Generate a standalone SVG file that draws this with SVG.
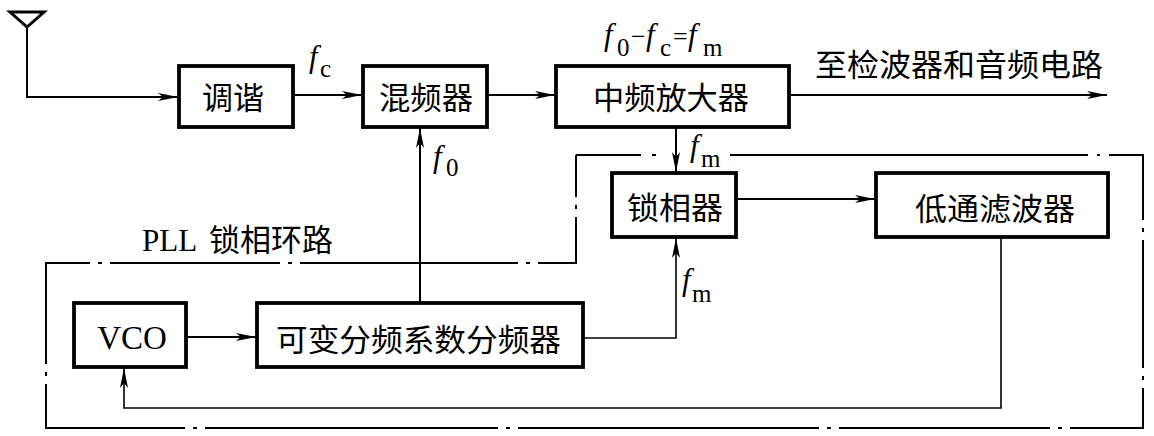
<svg xmlns="http://www.w3.org/2000/svg" width="1154" height="436" viewBox="0 0 1154 436">
<defs>
<marker id="arr" markerUnits="userSpaceOnUse" markerWidth="22" markerHeight="10" refX="20" refY="4" orient="auto">
<path d="M0,0 L20,4 L0,8 L5,4 z" fill="#000"/>
</marker>
</defs>
<style>
.box{fill:#fff;stroke:#000;stroke-width:3.8}
.cn{font-family:"Noto Sans CJK SC","Noto Sans",sans-serif;font-size:31px;fill:#000}
.lat{font-family:"Liberation Serif","Times New Roman",serif;fill:#000}
.f{font-family:"Liberation Serif","Times New Roman",serif;font-style:italic;font-size:31px;fill:#000}
.sub{font-family:"Liberation Serif","Times New Roman",serif;font-style:normal;font-size:25px;fill:#000}
.op{font-family:"Liberation Serif","Times New Roman",serif;font-style:normal;font-size:26px;fill:#000}
.ln{fill:none;stroke:#000;stroke-width:2}
.thin{fill:none;stroke:#000;stroke-width:1.6}
.bnd{fill:none;stroke:#000;stroke-width:2}
</style>
<rect width="1154" height="436" fill="#fff"/>

<g id="boundary">
<path class="bnd" d="M576,155 H641 M652,155 H656 M730,155 H1088 M1097,155 H1100 M1109,155 H1143 V220 M1143,228 V232 M1143,240 V368 M1143,376 V380 M1143,388 V428 H1070 M1062,428 H1058 M1050,428 H839 M831,428 H827 M819,428 H518 M510,428 H506 M498,428 H205 M197,428 H193 M185,428 H46 V384 M46,376 V372 M46,364 V263 H90 M98,263 H102 M110,263 H280 M288,263 H292 M300,263 H518 M526,263 H530 M538,263 H576 V217 M576,209 V205 M576,197 V155"/>
</g>

<g id="connectors">
<polyline class="ln" points="27,27 27,97 178,97" marker-end="url(#arr)"/>
<line class="ln" x1="293" y1="95" x2="362" y2="95" marker-end="url(#arr)"/>
<line class="ln" x1="487" y1="95" x2="555" y2="95" marker-end="url(#arr)"/>
<line class="ln" x1="789" y1="95" x2="1107" y2="95" marker-end="url(#arr)"/>
<line class="ln" x1="676" y1="127" x2="676" y2="172" marker-end="url(#arr)"/>
<line class="ln" x1="736" y1="199" x2="875" y2="199" marker-end="url(#arr)"/>
<line class="ln" x1="420" y1="303" x2="420" y2="128" marker-end="url(#arr)"/>
<line class="ln" x1="186" y1="337" x2="256" y2="337" marker-end="url(#arr)"/>
<polyline class="thin" points="583,338 676,338 676,238" marker-end="url(#arr)"/>
<polyline class="thin" points="1001,237 1001,408 124,408 124,368" marker-end="url(#arr)"/>
</g>

<g id="antenna">
<polygon points="10,12 44,12 27,27" fill="none" stroke="#000" stroke-width="3"/>
</g>

<g id="tune">
<rect class="box" x="179" y="66" width="114" height="61"/>
<text class="cn" x="202" y="109" textLength="62" lengthAdjust="spacingAndGlyphs">调谐</text>
</g>

<g id="mixer">
<rect class="box" x="363" y="66" width="124" height="61"/>
<text class="cn" x="379" y="109" textLength="94" lengthAdjust="spacingAndGlyphs">混频器</text>
</g>

<g id="if-amp">
<rect class="box" x="556" y="66" width="233" height="61"/>
<text class="cn" x="593" y="109" textLength="156" lengthAdjust="spacingAndGlyphs">中频放大器</text>
</g>

<g id="pd">
<rect class="box" x="612" y="173" width="124" height="64"/>
<text class="cn" x="627" y="219" textLength="96" lengthAdjust="spacingAndGlyphs">锁相器</text>
</g>

<g id="lpf">
<rect class="box" x="876" y="173" width="232" height="64"/>
<text class="cn" x="915" y="220" textLength="160" lengthAdjust="spacingAndGlyphs">低通滤波器</text>
</g>

<g id="vco">
<rect class="box" x="74" y="303" width="112" height="64"/>
<text class="lat" x="132" y="349" font-size="33" text-anchor="middle">VCO</text>
</g>

<g id="divider">
<rect class="box" x="257" y="303" width="326" height="64"/>
<text class="cn" x="276" y="351" textLength="285" lengthAdjust="spacingAndGlyphs">可变分频系数分频器</text>
</g>

<g id="labels">
<text class="cn" x="815" y="76" textLength="288" lengthAdjust="spacingAndGlyphs">至检波器和音频电路</text>
<text class="lat" x="142" y="251" font-size="31">PLL</text>
<text class="cn" x="209" y="251" textLength="124" lengthAdjust="spacingAndGlyphs">锁相环路</text>

<text class="f" x="309" y="67">f<tspan class="sub" x="320" y="77">c</tspan></text>

<text class="f" x="433" y="167">f<tspan class="sub" x="446" y="176">0</tspan></text>

<text class="f" x="690" y="156">f<tspan class="sub" x="701" y="167">m</tspan></text>

<text class="f" x="682" y="290">f<tspan class="sub" x="692" y="302">m</tspan></text>

<text class="f" x="604" y="45">f<tspan class="sub" x="617" y="56">0</tspan><tspan class="op" x="631" y="45">−</tspan><tspan x="646" y="45">f</tspan><tspan class="sub" x="660" y="56">c</tspan><tspan class="op" x="673" y="45">=</tspan><tspan x="688" y="45">f</tspan><tspan class="sub" x="703" y="56">m</tspan></text>
</g>
</svg>
